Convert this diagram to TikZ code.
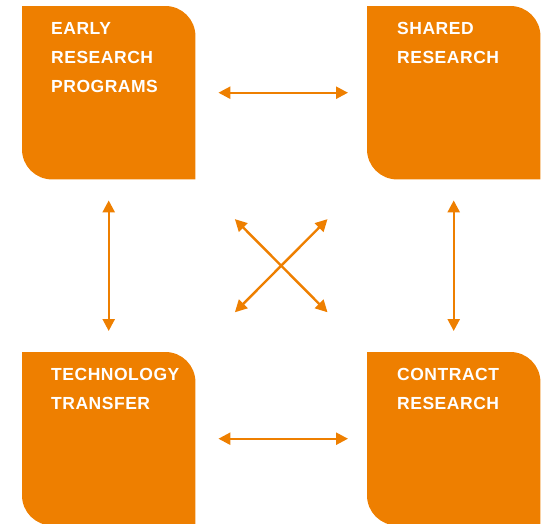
\documentclass[tikz,border=0pt]{standalone}
\usepackage{fontspec}
\setmainfont{Liberation Sans}
\usetikzlibrary{arrows.meta,calc}
\definecolor{boxorange}{HTML}{EE7F00}
\begin{document}
\begin{tikzpicture}[x=1pt,y=-1pt,
  boxnode/.style={rectangle,minimum width=173pt,minimum height=173pt,inner sep=0pt,anchor=north west},
  boxlabel/.style={anchor=north west,inner sep=0pt,align=left,text=white,
    font=\fontsize{17.5pt}{29pt}\selectfont\addfontfeatures{LetterSpace=3}\bfseries},
  link/.style={draw=boxorange,line width=2.4pt,{Triangle[length=12pt,width=12pt]}-{Triangle[length=12pt,width=12pt]}}]
\useasboundingbox (0,0) rectangle (546,523);
\clip (0,0) rectangle (546,523);
\newcommand{\orangebox}[1]{%
  \fill[boxorange] (#1.north west) -- ($(#1.north east)+(-30,0)$)
    arc[start angle=90,end angle=0,radius=30pt] -- (#1.south east)
    -- ($(#1.south west)+(30,0)$) arc[start angle=270,end angle=180,radius=30pt] -- cycle;}
\node[boxnode] (TL) at (22,6) {};
\node[boxnode] (TR) at (367,6) {};
\node[boxnode] (BL) at (22,352) {};
\node[boxnode] (BR) at (367,352) {};
\orangebox{TL}
\orangebox{TR}
\orangebox{BL}
\orangebox{BR}
\node[boxlabel] (tTL) at ($(TL.north west)+(29,16)$) {EARLY\\RESEARCH\\PROGRAMS};
\node[boxlabel] (tTR) at ($(TR.north west)+(30,16)$) {SHARED\\RESEARCH};
\node[boxlabel] (tBL) at ($(BL.north west)+(29,16)$) {TECHNOLOGY\\TRANSFER};
\node[boxlabel] (tBR) at ($(BR.north west)+(30,16)$) {CONTRACT\\RESEARCH};
\draw[link] ([xshift=23pt]TL.east) -- ([xshift=-19pt]TR.west);
\draw[link] ([xshift=23pt]BL.east) -- ([xshift=-19pt]BR.west);
\draw[link] ([yshift=-21pt]TL.south) -- ([yshift=21pt]BL.north);
\draw[link] ([yshift=-21pt]TR.south) -- ([yshift=21pt]BR.north);
\draw[link,shorten <=56pt,shorten >=56pt] (TL.south east) -- (BR.north west);
\draw[link,shorten <=56pt,shorten >=56pt] (TR.south west) -- (BL.north east);
\end{tikzpicture}
\end{document}
